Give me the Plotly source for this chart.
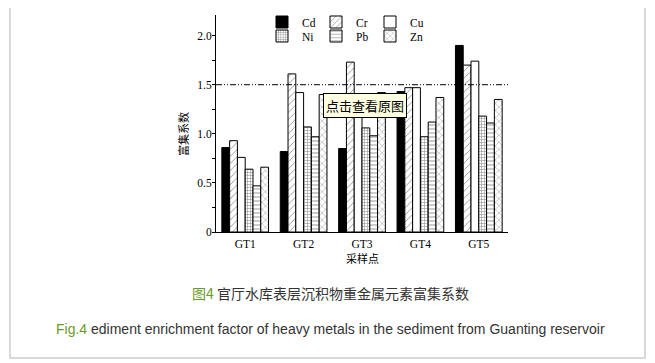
import plotly.graph_objects as go

# ---------------- data ----------------
sites = ["GT1", "GT2", "GT3", "GT4", "GT5"]
cd = [0.86, 0.82, 0.85, 1.43, 1.90]
cr = [0.93, 1.61, 1.73, 1.47, 1.70]
cu = [0.76, 1.42, 1.28, 1.47, 1.74]
ni = [0.64, 1.07, 1.06, 0.97, 1.18]
pb = [0.47, 0.97, 0.98, 1.12, 1.11]
zn = [0.66, 1.40, 1.42, 1.37, 1.35]
threshold = 1.5
y_ticks = [0, 0.5, 1.0, 1.5, 2.0]
y_tick_labels = ["0", "0.5", "1.0", "1.5", "2.0"]

# ---------------- geometry ----------------
OFF = 8                      # page body margin in the browser
W, H = 655 - OFF, 363 - OFF
# plot area in screen px
L, R, T, B = 216, 508, 15, 232
PW, PH = R - L, B - T

def px(x):
    return (x - L) / PW

def py(y):
    return (B - y) / PH

serif = "Liberation Serif, Times New Roman, serif"
cjk = "Noto Sans CJK SC, sans-serif"

series = [
    ("Cd", cd, dict(color="black"), "legend"),
    ("Cr", cr, dict(color="white", pattern=dict(shape="/", fgcolor="black", bgcolor="white", size=5, solidity=0.15)), "legend"),
    ("Cu", cu, dict(color="white"), "legend"),
    ("Ni", ni, dict(color="white", pattern=dict(shape="+", fgcolor="#222", bgcolor="white", size=3, solidity=0.35)), "legend2"),
    ("Pb", pb, dict(color="white", pattern=dict(shape="-", fgcolor="black", bgcolor="white", size=4, solidity=0.2)), "legend2"),
    ("Zn", zn, dict(color="white", pattern=dict(shape="x", fgcolor="black", bgcolor="white", size=5, solidity=0.15)), "legend2"),
]

fig = go.Figure()
for name, vals, mk, lg in series:
    m = dict(mk)
    m["line"] = dict(color="black", width=1)
    fig.add_trace(go.Bar(x=sites, y=vals, name=name, marker=m, legend=lg))

fig.add_shape(type="line", xref="paper", yref="y", x0=0, x1=1, y0=threshold, y1=threshold,
              line=dict(color="black", width=1, dash="6px,2px,1px,2px,1px,2px"))

# page frame
fig.add_shape(type="rect", xref="paper", yref="paper",
              x0=px(10), x1=px(645), y0=py(358), y1=py(4),
              line=dict(color="#d9d9d9", width=2), layer="below")

leg_common = dict(orientation="h", xanchor="left", yanchor="middle",
                  bgcolor="rgba(0,0,0,0)", entrywidth=9, entrywidthmode="pixels",
                  font=dict(family=serif, size=11.5, color="black"), itemclick=False)
fig.update_layout(
    legend=dict(x=px(262), y=py(22), **leg_common),
    legend2=dict(x=px(262), y=py(36), **leg_common),
)

annos = [
    dict(text="富集系数", x=px(183), y=py(134), textangle=-90,
         font=dict(family=cjk, size=11, color="black")),
    dict(text="采样点", x=0.5, y=py(258),
         font=dict(family=cjk, size=11, color="black")),
    dict(text="<span style='color:#6b9a2b'>图4</span> 官厅水库表层沉积物重金属元素富集系数",
         x=px(330), y=py(293), font=dict(family=cjk, size=14, color="#333333")),
    dict(text="<span style='color:#6b9a2b'>Fig.4</span> ediment enrichment factor of heavy metals in the sediment from Guanting reservoir",
         x=px(330), y=py(329), font=dict(family="Liberation Sans, Arial, sans-serif", size=14, color="#333333")),
    dict(text="点击查看原图", x=px(365), y=py(106), bgcolor="#ffffe1", bordercolor="black",
         borderwidth=1, borderpad=2, font=dict(family=cjk, size=13, color="black")),
]
for a in annos:
    a.update(xref="paper", yref="paper", showarrow=False, xanchor="center", yanchor="middle")
    fig.add_annotation(**a)

fig.update_layout(
    width=W, height=H,
    margin=dict(l=L - OFF, r=W - (R - OFF), t=T - OFF, b=H - (B - OFF), autoexpand=False),
    paper_bgcolor="white", plot_bgcolor="white",
    barmode="group", bargap=0.2, bargroupgap=0,
    showlegend=True,
    xaxis=dict(showline=True, linecolor="black", linewidth=1, ticks="", showgrid=False,
               ticklabelstandoff=1,
               tickfont=dict(family=serif, size=11.5, color="black")),
    yaxis=dict(range=[0, 2.21], showline=True, linecolor="black", linewidth=1,
               tickvals=y_ticks, ticktext=y_tick_labels, ticks="outside", ticklen=3,
               tickcolor="black", showgrid=False, zeroline=False, ticklabelstandoff=-2,
               tickfont=dict(family=serif, size=11.5, color="black"),
               minor=dict(dtick=0.25, ticks="outside", ticklen=3, tickcolor="black", showgrid=False)),
)

fig.write_html("out.html")
